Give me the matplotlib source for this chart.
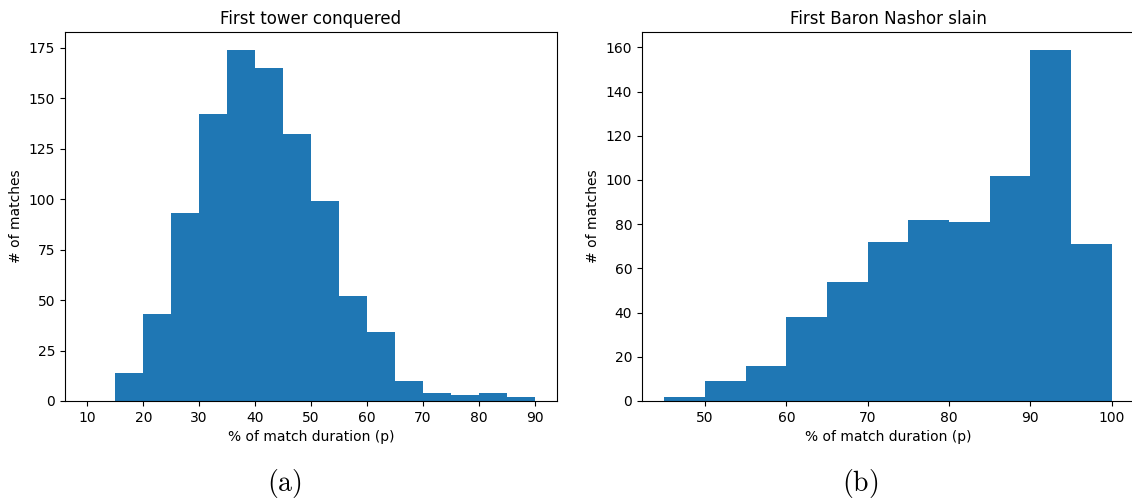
import matplotlib
matplotlib.use("Agg")
import matplotlib.pyplot as plt

# histogram counts (bin width 5 %)
tower_edges = [10, 15, 20, 25, 30, 35, 40, 45, 50, 55, 60, 65, 70, 75, 80, 85, 90]
tower_counts = [0, 14, 43, 93, 142, 174, 165, 132, 99, 52, 34, 10, 4, 3, 4, 2]

baron_edges = [45, 50, 55, 60, 65, 70, 75, 80, 85, 90, 95, 100]
baron_counts = [2, 9, 16, 38, 54, 72, 82, 81, 102, 159, 71]

plt.rcParams['mathtext.fontset'] = 'cm'

W, H = 1132, 500
fig = plt.figure(figsize=(W / 100, H / 100), dpi=100)


def px_axes(x0, y0, x1, y1):
    # axes from pixel box (top-left origin)
    return fig.add_axes([x0 / W, 1 - y1 / H, (x1 - x0) / W, (y1 - y0) / H])


ax1 = px_axes(65, 32, 557, 401)
ax2 = px_axes(642, 32, 1134, 401)

ax1.hist(tower_edges[:-1], bins=tower_edges, weights=tower_counts, color='#1f77b4')
ax1.set_title("First tower conquered")
ax1.set_xlabel("% of match duration (p)")
ax1.set_ylabel("# of matches")
ax1.set_xticks([10, 20, 30, 40, 50, 60, 70, 80, 90])

ax2.hist(baron_edges[:-1], bins=baron_edges, weights=baron_counts, color='#1f77b4')
ax2.set_title("First Baron Nashor slain")
ax2.set_xlabel("% of match duration (p)")
ax2.set_ylabel("# of matches")

fig.text(284 / W, 1 - 484 / H, r'$\mathrm{(a)}$', fontsize=20, ha='center', va='center')
fig.text(860 / W, 1 - 484 / H, r'$\mathrm{(b)}$', fontsize=20, ha='center', va='center')

fig.savefig("out.png", dpi=100)
